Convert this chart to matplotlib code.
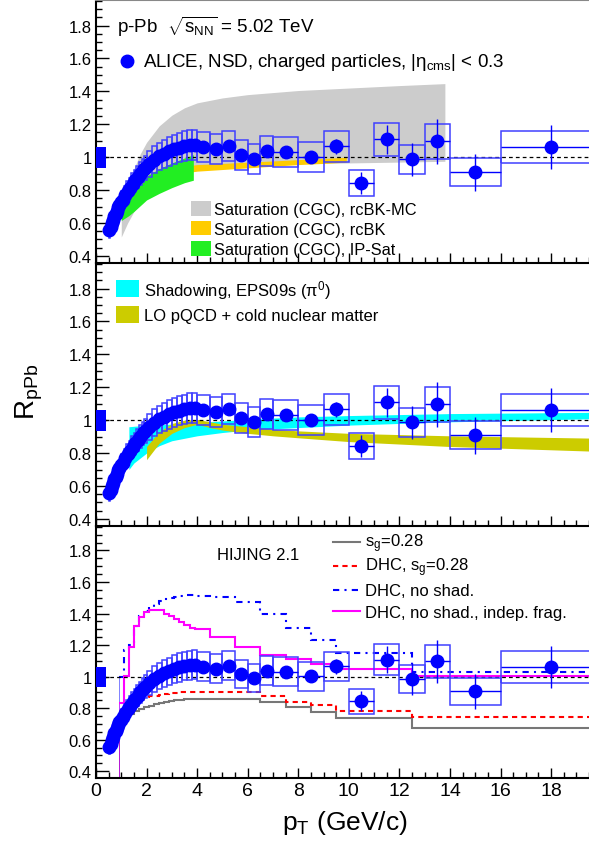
import matplotlib
matplotlib.use('Agg')
import numpy as np
import matplotlib.pyplot as plt
from matplotlib.patches import Rectangle
from matplotlib.lines import Line2D
from matplotlib.ticker import MultipleLocator

plt.rcParams['font.family'] = ['Liberation Sans', 'DejaVu Sans']
plt.rcParams['mathtext.fontset'] = 'custom'
plt.rcParams['mathtext.rm'] = 'Liberation Sans'
plt.rcParams['mathtext.it'] = 'Liberation Sans:italic'
plt.rcParams['mathtext.bf'] = 'Liberation Sans:bold'

# ALICE data: bin edges, R_pPb, stat and sys errors
pt_edges = [0.5, 0.55, 0.6, 0.65, 0.7, 0.75, 0.8, 0.85, 0.9, 0.95, 1.0,
            1.1, 1.2, 1.3, 1.4, 1.5, 1.6, 1.7, 1.8, 1.9, 2.0,
            2.2, 2.4, 2.6, 2.8, 3.0, 3.2, 3.4, 3.6, 3.8, 4.0,
            4.5, 5.0, 5.5, 6.0, 6.5, 7.0, 8.0, 9.0, 10.0, 11.0, 12.0, 13.0, 14.0, 16.0, 20.0]
rppb = [0.555, 0.575, 0.60, 0.62, 0.64, 0.655, 0.675, 0.695, 0.71, 0.725,
        0.742, 0.77, 0.795, 0.815, 0.84, 0.86, 0.88, 0.90, 0.92, 0.935,
        0.96, 0.985, 1.005, 1.02, 1.035, 1.048, 1.058, 1.066, 1.072, 1.076,
        1.062, 1.051, 1.068, 1.015, 0.99, 1.037, 1.031, 1.001, 1.065, 0.844,
        1.108, 0.986, 1.096, 0.907, 1.062]
stat = [0.004, 0.004, 0.004, 0.004, 0.004, 0.004, 0.004, 0.004, 0.004, 0.004,
        0.005, 0.005, 0.005, 0.005, 0.005, 0.005, 0.005, 0.006, 0.006, 0.006,
        0.006, 0.007, 0.007, 0.008, 0.008, 0.009, 0.010, 0.011, 0.012, 0.013,
        0.012, 0.016, 0.020, 0.024, 0.028, 0.032, 0.025, 0.035, 0.048, 0.065,
        0.088, 0.100, 0.135, 0.110, 0.135]
syst = [0.045, 0.045, 0.045, 0.046, 0.047, 0.048, 0.049, 0.050, 0.051, 0.052,
        0.055, 0.056, 0.058, 0.060, 0.062, 0.064, 0.066, 0.068, 0.070, 0.072,
        0.078, 0.080, 0.082, 0.084, 0.086, 0.088, 0.090, 0.090, 0.092, 0.092,
        0.092, 0.090, 0.092, 0.090, 0.090, 0.092, 0.092, 0.092, 0.092, 0.078,
        0.100, 0.090, 0.105, 0.085, 0.100]
norm_unc = 0.063

# Saturation (CGC) bands
rcbkmc_pt = [1.0, 1.25, 1.5, 1.75, 2.0, 2.5, 3.0, 3.5, 4.0, 5.0, 6.0, 8.0, 10.0, 12.0, 13.8]
rcbkmc_lo = [0.515, 0.60, 0.67, 0.72, 0.77, 0.84, 0.88, 0.905, 0.92, 0.935, 0.945, 0.96, 0.965, 0.97, 0.975]
rcbkmc_hi = [0.72, 0.83, 0.93, 1.02, 1.09, 1.19, 1.255, 1.30, 1.33, 1.36, 1.38, 1.405, 1.42, 1.435, 1.447]
rcbk_pt = [1.5, 2.0, 2.5, 3.0, 3.5, 4.0, 5.0, 6.0, 7.0, 8.0, 9.0, 9.9]
rcbk_lo = [0.78, 0.83, 0.865, 0.89, 0.905, 0.915, 0.925, 0.935, 0.945, 0.955, 0.962, 0.97]
rcbk_hi = [0.82, 0.87, 0.90, 0.925, 0.945, 0.955, 0.962, 0.97, 0.977, 0.985, 0.992, 1.0]
ipsat_pt = [1.0, 1.3, 1.5, 2.0, 2.5, 3.0, 3.5, 3.85]
ipsat_lo = [0.615, 0.645, 0.67, 0.74, 0.78, 0.815, 0.845, 0.86]
ipsat_hi = [0.72, 0.785, 0.82, 0.885, 0.93, 0.965, 0.995, 1.015]

# Shadowing and LO pQCD bands
eps_pt = [1.3, 1.5, 2.0, 2.5, 3.0, 4.0, 5.0, 6.0, 8.0, 10.0, 14.0, 20.0]
eps_lo = [0.70, 0.74, 0.80, 0.845, 0.875, 0.905, 0.925, 0.94, 0.955, 0.97, 0.99, 1.01]
eps_hi = [0.96, 0.963, 0.968, 0.972, 0.976, 0.985, 0.995, 1.005, 1.02, 1.028, 1.04, 1.048]
lo_pt = [2.0, 2.5, 3.0, 3.5, 4.0, 4.5, 5.0, 6.0, 7.0, 8.0, 10.0, 14.0, 20.0]
lo_lo = [0.76, 0.86, 0.92, 0.955, 0.975, 0.955, 0.94, 0.92, 0.905, 0.893, 0.87, 0.84, 0.81]
lo_hi = [0.84, 0.93, 0.98, 1.0, 1.005, 0.99, 0.975, 0.96, 0.945, 0.935, 0.92, 0.905, 0.89]

# HIJING 2.1 histograms
hij_edges = [0.9, 1.1, 1.3, 1.5, 1.7, 1.9, 2.1, 2.3, 2.5, 2.7, 2.9, 3.1, 3.3, 3.5,
             3.7, 3.9, 4.5, 5.5, 6.5, 7.5, 8.5, 9.5, 12.5, 20.0]
hij_sg = [0.68, 0.73, 0.76, 0.78, 0.795, 0.805, 0.815, 0.825, 0.833, 0.84, 0.845, 0.85,
          0.853, 0.856, 0.858, 0.86, 0.86, 0.855, 0.842, 0.806, 0.775, 0.737, 0.676]
hij_dhc_sg = [0.70, 0.76, 0.80, 0.83, 0.855, 0.87, 0.875, 0.88, 0.885, 0.89, 0.895, 0.897,
              0.90, 0.90, 0.902, 0.905, 0.905, 0.90, 0.88, 0.842, 0.817, 0.783, 0.743]
hij_noshad = [1.0, 1.17, 1.2, 1.32, 1.385, 1.415, 1.44, 1.46, 1.48, 1.49, 1.50, 1.505,
              1.51, 1.515, 1.515, 1.51, 1.505, 1.47, 1.395, 1.31, 1.23, 1.15, 1.03]
hij_indep = [0.835, 1.005, 1.19, 1.32, 1.38, 1.41, 1.425, 1.425, 1.42, 1.40, 1.385, 1.365,
             1.345, 1.325, 1.31, 1.30, 1.25, 1.185, 1.135, 1.11, 1.08, 1.05, 1.005]

yticks = [0.4, 0.6, 0.8, 1.0, 1.2, 1.4, 1.6, 1.8]
ytick_labels = ['0.4', '0.6', '0.8', '1', '1.2', '1.4', '1.6', '1.8']
xticks = [0, 2, 4, 6, 8, 10, 12, 14, 16, 18]

W, H = 589, 845
fig = plt.figure(figsize=(W / 100, H / 100), dpi=100)
left = 96 / W
ax1 = fig.add_axes([left, 1 - 264 / H, 1 - left, 263 / H])
ax2 = fig.add_axes([left, 1 - 527 / H, 1 - left, 263 / H])
ax3 = fig.add_axes([left, 1 - 779 / H, 1 - left, 252 / H])


def style(ax, xlabels):
    ax.set_xlim(0, 19.5)
    ax.set_ylim(0.357, 1.955)
    ax.set_yticks(yticks)
    ax.set_yticklabels(ytick_labels, fontsize=12)
    ax.set_xticks(xticks)
    if xlabels:
        ax.set_xticklabels([str(t) for t in xticks], fontsize=14)
    else:
        ax.set_xticklabels([])
    ax.xaxis.set_minor_locator(MultipleLocator(0.5))
    ax.yaxis.set_minor_locator(MultipleLocator(0.05))
    ax.tick_params(axis='y', which='major', direction='in', length=9.5, width=1, pad=3)
    ax.tick_params(axis='x', which='major', direction='in', length=7, width=1, pad=3)
    ax.tick_params(which='minor', direction='in', length=4, width=1)
    ax.spines['right'].set_visible(False)
    ax.spines['top'].set_visible(False)
    ax.spines['left'].set_linewidth(1.5)
    ax.spines['bottom'].set_linewidth(1.5)
    ax.set_facecolor('none')


def draw_data(ax):
    edges = np.array(pt_edges)
    lo, hi = edges[:-1], edges[1:]
    ctr = 0.5 * (lo + hi)
    for x0, x1, v, s in zip(lo, hi, rppb, syst):
        ax.add_patch(Rectangle((x0, v - s), x1 - x0, 2 * s, fill=False,
                               ec=(0.25, 0.25, 1.0), lw=1.1, zorder=4))
    ax.errorbar(ctr, rppb, xerr=0.5 * (hi - lo), yerr=stat, fmt='o', ms=9,
                color='blue', mec='blue', elinewidth=1, capsize=0, zorder=6)
    ax.fill_between([0, 0.4], 1 - norm_unc, 1 + norm_unc, color='blue', lw=0, zorder=5)
    ax.axhline(1, color='k', ls=(0, (3, 2.5)), lw=0.9, zorder=3)


def hist(ax, vals, **kw):
    # step curve, with a thin rise from below the frame at the first edge
    ax.stairs(vals, hij_edges, baseline=None, lw=1.5, zorder=2, **kw)
    ax.vlines(hij_edges[0], 0, vals[0], colors=kw['color'], lw=0.7, alpha=0.5, zorder=2)


def ftext(x, y, s, size, **kw):
    fig.text(x / W, 1 - y / H, s, fontsize=size, ha='left', va='baseline', **kw)


def fbox(x0, y0, x1, y1, color):
    fig.add_artist(Rectangle((x0 / W, 1 - y1 / H), (x1 - x0) / W, (y1 - y0) / H,
                             transform=fig.transFigure, fc=color, ec='none'))


def fline(x0, x1, y, **kw):
    fig.add_artist(Line2D([x0 / W, x1 / W], [1 - y / H, 1 - y / H],
                          transform=fig.transFigure, **kw))


# panel 1: saturation
ax1.fill_between(rcbkmc_pt, rcbkmc_lo, rcbkmc_hi, color='#cccccc', lw=0, zorder=1)
ax1.fill_between(rcbk_pt, rcbk_lo, rcbk_hi, color='#ffcc00', lw=0, zorder=1.5)
ax1.fill_between(ipsat_pt, ipsat_lo, ipsat_hi, color='#22ee22', lw=0, zorder=2)
draw_data(ax1)
style(ax1, False)
ax1.spines['top'].set_visible(True)
ax1.spines['top'].set_color('#888888')
ax1.spines['top'].set_linewidth(1.5)

# panel 2: shadowing, pQCD
ax2.fill_between(eps_pt, eps_lo, eps_hi, color='#00ffff', lw=0, zorder=1)
ax2.fill_between(lo_pt, lo_lo, lo_hi, color='#cccc00', lw=0, zorder=1.5)
draw_data(ax2)
style(ax2, False)

# panel 3: HIJING
hist(ax3, hij_sg, color='#777777')
hist(ax3, hij_dhc_sg, color='red', ls=(0, (2.5, 2)))
hist(ax3, hij_noshad, color='blue', ls=(0, (3, 2.5, 1, 2.5)))
hist(ax3, hij_indep, color='#ff00ff')
draw_data(ax3)
style(ax3, True)

# panel 1 labels
ftext(117, 33.3, r'p-Pb  $\sqrt{\mathrm{s}_{\mathrm{NN}}}$ = 5.02 TeV', 13.5)
fig.add_artist(Line2D([127 / W], [1 - 62 / H], marker='o', ms=9, color='blue',
                      transform=fig.transFigure))
ftext(143, 66.7, r'ALICE, NSD, charged particles, |η$_{\mathrm{cms}}$| < 0.3', 13.5)
fbox(191, 202, 211, 217, '#cccccc')
fbox(191, 222, 211, 236, '#ffcc00')
fbox(191, 242, 211, 257, '#22ee22')
ftext(214, 215, 'Saturation (CGC), rcBK-MC', 11.8)
ftext(214, 235, 'Saturation (CGC), rcBK', 11.8)
ftext(214, 255, 'Saturation (CGC), IP-Sat', 11.8)

# panel 2 labels
fbox(116, 281, 139, 298, '#00ffff')
fbox(116, 307, 139, 324, '#cccc00')
ftext(144, 296, r'Shadowing, EPS09s (π$^{0}$)', 12)
ftext(144, 320.7, 'LO pQCD + cold nuclear matter', 12)

# panel 3 labels
ftext(217, 560, 'HIJING 2.1', 12)
fline(333, 360, 543.3, color='#777777', lw=1.5)
fline(333, 360, 567.3, color='red', lw=1.5, ls=(0, (2.5, 2)))
fline(333, 360, 591, color='blue', lw=1.5, ls=(0, (3, 2.5, 1, 2.5)))
fline(333, 360, 611.7, color='#ff00ff', lw=1.5)
ftext(365, 547.3, r's$_{\mathrm{g}}$=0.28', 12)
ftext(365, 571.7, r'DHC, s$_{\mathrm{g}}$=0.28', 12)
ftext(365, 596, 'DHC, no shad.', 12)
ftext(365, 618.3, 'DHC, no shad., indep. frag.', 12)

# axis titles
fig.text(29 / W, 1 - 392 / H, r'R$_{\mathrm{pPb}}$', fontsize=20, rotation=90,
         ha='center', va='center')
ftext(282, 830, r'p$_{\mathrm{T}}$ (GeV/c)', 19)

fig.savefig('out.png', dpi=100)
